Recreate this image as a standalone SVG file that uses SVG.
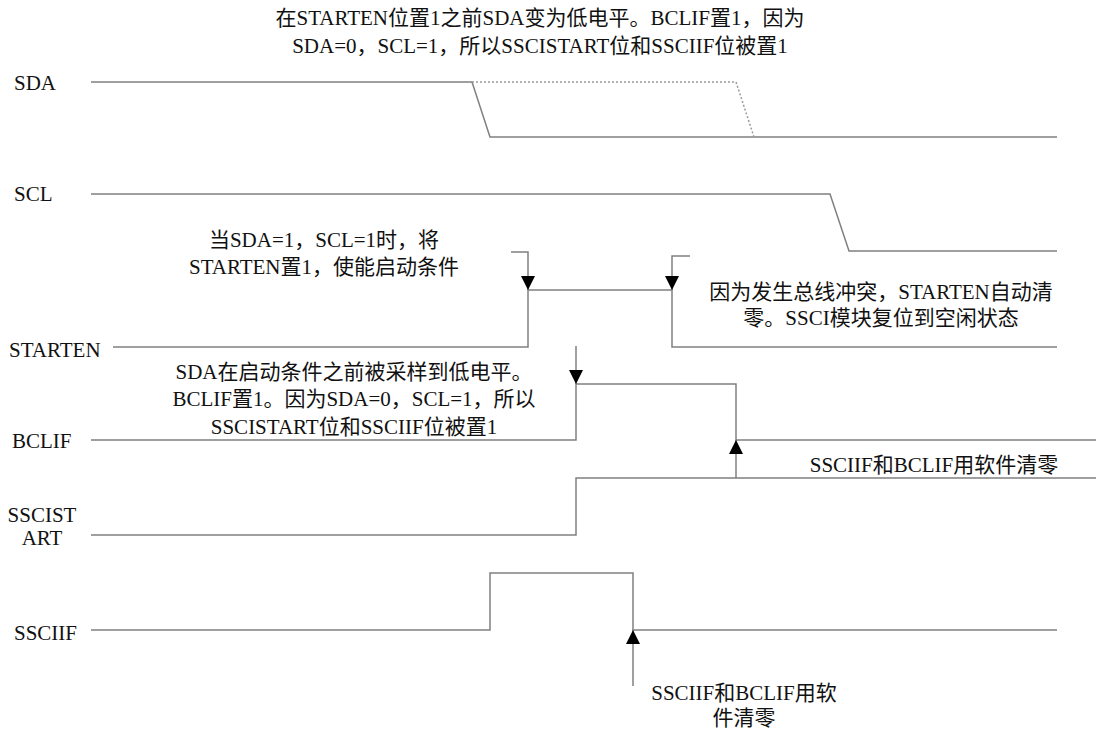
<svg xmlns="http://www.w3.org/2000/svg" width="1096" height="731" viewBox="0 0 1096 731">
<style>
text{font-family:"Liberation Serif","Noto Sans CJK SC",serif;font-size:21px;fill:#111}
.sig{fill:none;stroke:#808080;stroke-width:1.5}
.dot{fill:none;stroke:#9a9a9a;stroke-width:1.5;stroke-dasharray:2 2}
.arr{fill:none;stroke:#808080;stroke-width:1.5;marker-end:url(#ah)}
.c{text-anchor:middle}
</style>
<defs>
<marker id="ah" markerUnits="userSpaceOnUse" markerWidth="14" markerHeight="14" refX="14" refY="7" orient="auto">
<path d="M0,0 L14,7 L0,14 z" fill="#000"/>
</marker>
</defs>
<rect width="1096" height="731" fill="#fff"/>
<g id="labels">
<text x="14" y="90" font-size="20">SDA</text>
<text x="14" y="201" font-size="20">SCL</text>
<text x="9" y="357">STARTEN</text>
<text x="12" y="448">BCLIF</text>
<text x="42" y="522" class="c">SSCIST</text>
<text x="42" y="545" class="c">ART</text>
<text x="14" y="640" font-size="20">SSCIIF</text>
</g>
<g id="signals">
<g id="sda">
<path class="sig" d="M91,82 H472 L490,137 H1057"/>
<path class="dot" d="M472,82 H736 L754,137"/>
</g>
<g id="scl"><path class="sig" d="M91,194 H830 L849,251 H1057"/></g>
<g id="starten"><path class="sig" d="M113,347 H528 V290 H672 V347 H1057"/></g>
<g id="bclif"><path class="sig" d="M91,440 H576 V384 H736 V440 H1096"/></g>
<g id="sscistart"><path class="sig" d="M91,535 H576 V478 H1096"/></g>
<g id="ssciif"><path class="sig" d="M91,630 H490 V573 H633 V630 H1057"/></g>
</g>
<g id="connectors">
<path class="arr" d="M511,252 H528 V290"/>
<path class="arr" d="M690,256 H672 V290"/>
<path class="arr" d="M576,346 V384"/>
<path class="arr" d="M736,478 V440"/>
<path class="arr" d="M633,686 V630"/>
</g>
<g id="note-top">
<text x="540" y="25" class="c">在STARTEN位置1之前SDA变为低电平。BCLIF置1，因为</text>
<text x="540" y="53" class="c">SDA=0，SCL=1，所以SSCISTART位和SSCIIF位被置1</text>
</g>
<g id="note-start">
<text x="324" y="247" class="c">当SDA=1，SCL=1时，将</text>
<text x="324" y="274" class="c">STARTEN置1，使能启动条件</text>
</g>
<g id="note-collision">
<text x="881" y="299" class="c">因为发生总线冲突，STARTEN自动清</text>
<text x="881" y="325" class="c">零。SSCI模块复位到空闲状态</text>
</g>
<g id="note-bclif">
<text x="354" y="379" class="c">SDA在启动条件之前被采样到低电平。</text>
<text x="354" y="406" class="c">BCLIF置1。因为SDA=0，SCL=1，所以</text>
<text x="354" y="434" class="c">SSCISTART位和SSCIIF位被置1</text>
</g>
<g id="note-clear1">
<text x="934" y="472" class="c">SSCIIF和BCLIF用软件清零</text>
</g>
<g id="note-clear2">
<text x="744" y="700" class="c">SSCIIF和BCLIF用软</text>
<text x="744" y="725" class="c">件清零</text>
</g>
</svg>
